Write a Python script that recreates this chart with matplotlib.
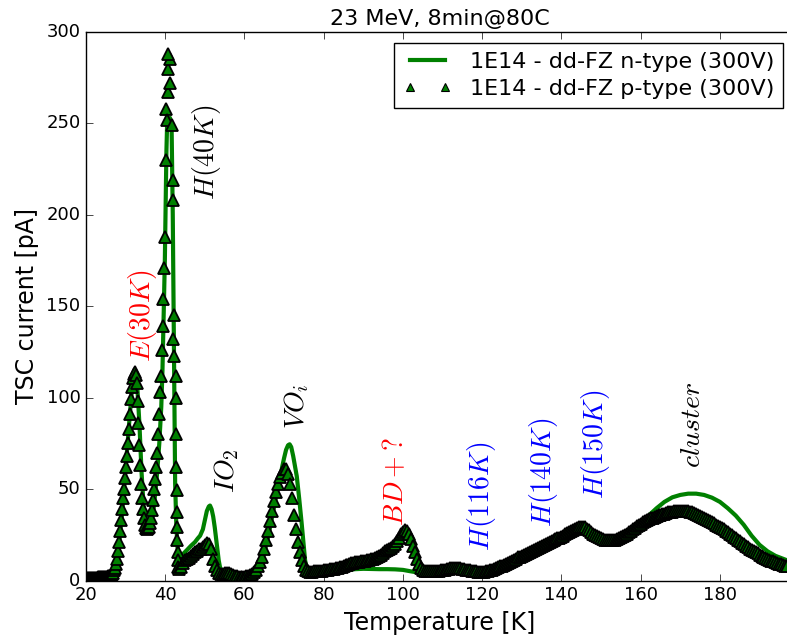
import numpy as np
import matplotlib
matplotlib.use("Agg")
import matplotlib.pyplot as plt

# ---- data ------------------------------------------------------------------
# n-type (line)
t_n = [20, 22, 24, 25, 26, 26.5, 27, 27.5, 28, 28.5, 29, 29.5, 30, 30.5, 31, 31.5,
       32, 32.5, 33, 33.5, 34, 34.5, 35, 35.5, 36, 36.5, 37, 37.5, 38, 38.5, 39,
       39.3, 39.6, 39.9, 40.1, 40.3, 40.5, 41.2, 41.6, 41.9, 42.1, 42.3, 42.5, 42.8,
       43.1, 43.5, 44.0, 44.5, 45.5, 46.5, 47.5, 48.2, 48.8, 49.5, 50.0, 50.5, 51.0,
       51.3, 51.7, 52.1, 52.5, 53.0, 53.5, 53.8, 54.3, 55, 56, 57, 58, 60, 61, 62,
       63, 64, 65, 66, 67, 68, 69, 69.5, 70, 70.5, 71, 71.4, 71.8, 72.3, 72.8, 73.2,
       73.8, 74.4, 74.9, 75.3, 75.7, 76.2, 77, 78, 80, 82, 84, 86, 88, 90, 92, 94,
       96, 98, 100, 102, 104, 106, 108, 110, 112, 114, 116, 118, 120, 122, 124, 126,
       128, 130, 132, 134, 136, 138, 140, 142, 144, 145.5, 147, 148.5, 150, 151.5,
       153, 154.5, 156, 158, 160, 162, 164, 166, 168, 170, 172, 174, 176, 178, 180,
       182, 184, 186, 188, 190, 192, 194, 196, 197]
i_n = [1.5, 1.5, 1.7, 2.0, 2.6, 3.2, 5, 8, 14, 23, 34, 47, 61, 75, 89, 102,
       110, 112, 104, 85, 60, 42, 32, 28, 28, 31, 38, 48, 60, 75, 95,
       115, 145, 175, 205, 235, 252, 253, 249, 200, 150, 100, 53, 30,
       18, 13, 13, 14.5, 16.7, 19, 21, 23, 24.5, 28, 33, 38, 40.5,
       41, 39, 35, 29, 20, 11, 7.5, 4.5, 3, 2.5, 2, 1.5, 1.5, 2, 2.8,
       4.5, 8, 15, 24, 35, 46, 56, 62, 67, 71.5, 74, 74.5, 73, 68, 62, 57,
       45, 32, 20, 11, 7, 5, 4.2, 4.2, 4.6, 5, 5.4, 5.8, 6.2, 6.4, 6.3, 6.2,
       6.2, 6.1, 5.8, 5, 4.3, 4, 4, 4.3, 5, 5.5, 5.2, 4.5, 4.2, 4.6, 5.6, 7,
       9.5, 12, 14.5, 17, 19, 21, 23, 25, 27, 27.8, 27, 25.5, 24, 22.5,
       21.8, 22.3, 24, 27.5, 31.5, 35.5, 39.5, 43, 45.5, 46.8, 47.5, 47.5, 46.8, 45.3, 43,
       39.5, 35.5, 30.5, 24.5, 19.5, 16, 13.5, 11.8, 11]

# p-type (triangles), low temperature part, sampled every 0.25 K
t_p_low = np.arange(20.0, 38.76, 0.25)
i_p_low = [1.5, 1.5, 1.5, 1.5, 1.5, 1.5, 1.5, 1.5, 1.6, 1.6,
           1.6, 1.6, 1.7, 1.7, 1.7, 1.8, 1.8, 1.9, 1.9, 2.0,
           2.0, 2.1, 2.2, 2.3, 2.5, 2.8, 3.3, 4.2, 5.5, 7.0,
           9.0, 11.5, 16, 21, 27, 33, 39, 45, 50, 56,
           62, 68, 75, 83, 91, 99, 106, 110.5, 113, 114,
           112.5, 108, 98, 86, 74, 63, 53, 45, 39, 34,
           30.5, 28.5, 28, 28.5, 29.5, 31.5, 34, 38.5, 44, 50,
           55.5, 62, 70, 80, 91, 103]

# p-type around the 40K peak (temperature jitters here)
t_p_peak = [38.9, 39.1, 39.35, 39.5, 39.7, 39.95, 40.2, 40.1, 40.4, 40.8, 41.2,
            40.8, 41.2, 40.8, 41.6, 41.9, 42.05, 42.3, 42.05, 42.3, 42.7, 42.6,
            42.7, 42.8, 42.9, 42.95, 43.0, 43.05, 43.1, 43.2, 43.3]
i_p_peak = [112, 126, 139, 154, 171, 188, 230, 258, 252, 267, 272,
            280, 285, 288, 249, 219, 208, 145, 132, 123, 112, 100,
            80, 62, 49.5, 37.5, 29, 22, 15.5, 11, 7.5]

# p-type, rest of the scan, sampled every 0.5 K
t_p_high = np.arange(43.5, 197.01, 0.5)
i_p_high = [6.5, 7.5, 9.5, 11, 12, 12.5, 13.5, 14.5, 15.5, 16,
            17, 17.5, 18.5, 19.5, 20.5, 20, 17, 12, 8, 5.5,
            4, 3.5, 3.5, 4, 4.2, 4, 3.5, 3, 2.5, 2.2,
            2, 2, 2, 2, 2.2, 2.5, 3, 3.5, 4.5, 6,
            8, 10, 13, 17, 22, 27, 32.5, 38, 43.5, 48.5,
            53, 56.5, 59, 61, 61, 58.5, 53, 45, 36, 28,
            21, 15.5, 11, 8, 6, 5, 4.8, 4.8, 5, 5,
            5, 5.2, 5.3, 5.5, 5.7, 5.9, 6.1, 6.3, 6.5, 6.8,
            7, 7.3, 7.6, 8, 8.3, 8.6, 9, 9.3, 9.6, 9.9,
            10.1, 10.3, 10.5, 10.7, 10.9, 11.1, 11.3, 11.6, 12, 12.4,
            12.9, 13.5, 14.2, 15, 15.9, 16.5, 17, 17.8, 18.7, 20,
            21.5, 23.5, 25.3, 26.8, 27.5, 27, 25.2, 22.5, 19, 15.5,
            12, 9, 7, 5.8, 5.2, 5, 5, 5, 5.1, 5.2,
            5.3, 5.4, 5.6, 5.8, 6, 6.3, 6.5, 6.8, 7, 7,
            7, 6.9, 6.7, 6.5, 6.2, 6, 5.7, 5.5, 5.3, 5.1,
            5, 4.9, 4.8, 4.8, 4.9, 5, 5.2, 5.5, 5.9, 6.3,
            6.8, 7.3, 7.8, 7.8, 8.3, 8.9, 9.5, 10.1, 10.8, 11.4,
            12, 12.6, 13, 13.5, 14, 14.6, 15.1, 15.7, 16.2, 16.8,
            17.4, 17.9, 18.4, 18.9, 19.4, 19.9, 20.4, 20.9, 21.4, 22,
            22.5, 23, 23.5, 24, 24.6, 25.2, 25.8, 26.4, 27, 27.6,
            28.2, 28.7, 29.1, 29.3, 29.3, 29, 28.4, 27.6, 26.6, 25.6,
            24.8, 24.2, 23.6, 23.1, 22.7, 22.4, 22.2, 22.1, 22.1, 22.2,
            22.4, 22.7, 23.1, 23.6, 24.2, 24.9, 25.7, 26.5, 27.3, 28.1,
            28.9, 29.7, 30.4, 31.1, 31.8, 32.4, 33, 33.5, 34, 34.4,
            34.8, 35.2, 35.6, 36, 36.3, 36.6, 36.9, 37.2, 37.4, 37.6,
            37.8, 38, 38.1, 38.2, 38.2, 38.2, 38.1, 38, 37.7, 37.4,
            37, 36.5, 36, 35.4, 34.8, 34.2, 33.6, 33, 32.4, 31.8,
            31.2, 30.6, 30, 29.3, 28.6, 27.9, 27.1, 26.3, 25.5, 24.7,
            23.9, 23.1, 22.3, 21.5, 20.7, 19.9, 19.1, 18.3, 17.5, 16.8,
            16.1, 15.4, 14.8, 14.1, 13.5, 12.9, 12.3, 11.8, 11.3, 10.8,
            10.4, 10, 9.6, 9.2, 8.8, 8.4, 8.1, 7.8]

assert len(t_p_low) == len(i_p_low)
assert len(t_p_high) == len(i_p_high)
assert len(t_n) == len(i_n)

t_p = np.concatenate([t_p_low, t_p_peak, t_p_high])
i_p = np.concatenate([i_p_low, i_p_peak, i_p_high])

# peak labels: text, temperature, current, colour
labels = [
    (r"$E(30K)$", 34.3, 145, "r"),
    (r"$H(40K)$", 50.5, 234, "k"),
    (r"$IO_2$", 55.5, 60, "k"),
    (r"$VO_i$", 73.2, 95, "k"),
    (r"$BD+?$", 98.0, 54, "r"),
    (r"$H(116K)$", 119.9, 46, "b"),
    (r"$H(140K)$", 135.5, 59, "b"),
    (r"$H(150K)$", 148.5, 74.5, "b"),
    (r"$cluster$", 173.0, 85, "k"),
]

# ---- plot -------------------------------------------------------------------
plt.style.use("classic")
plt.rcParams["figure.facecolor"] = "white"
plt.rcParams["savefig.facecolor"] = "white"

fig = plt.figure(figsize=(7.87, 6.4), dpi=100)
ax = fig.add_axes([86 / 787, 59.5 / 640, 708 / 787, 548.5 / 640])

ax.plot(t_n, i_n, "-", color="g", lw=3, label="1E14 - dd-FZ n-type (300V)")
ax.plot(t_p, i_p, "^", color="g", mec="k", mew=1.3, ms=8.5, linestyle="none",
        label="1E14 - dd-FZ p-type (300V)")

for txt, x, y, c in labels:
    ax.text(x, y, txt, rotation=90, ha="center", va="center", fontsize=20, color=c)

ax.set_xlim(20, 198.7)
ax.set_ylim(0, 300)
ax.set_xticks([20, 40, 60, 80, 100, 120, 140, 160, 180])
ax.set_yticks([0, 50, 100, 150, 200, 250, 300])
ax.tick_params(labelsize=13, direction="in", length=5, top=True, right=True)
ax.set_xlabel("Temperature [K]", fontsize=17)
ax.set_ylabel("TSC current [pA]", fontsize=17)
ax.set_title("23 MeV, 8min@80C", fontsize=16)

leg = ax.legend(loc="upper right", fontsize=16, numpoints=2, markerscale=0.6,
                handlelength=2.2, labelspacing=0.3, borderaxespad=0.5)
leg.legend_handles[1].set_markeredgewidth(0.8)

fig.savefig("out.png", dpi=100)
